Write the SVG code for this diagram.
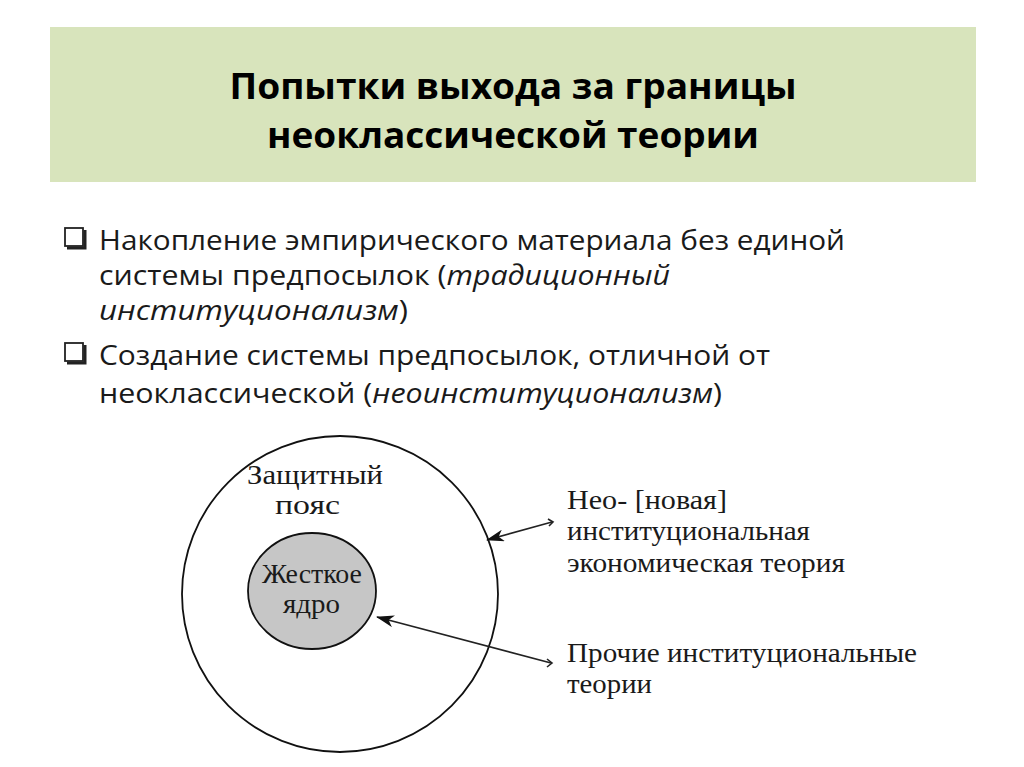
<svg xmlns="http://www.w3.org/2000/svg" width="1024" height="767" viewBox="0 0 1024 767">
<defs>
<style>
.title{font-family:"Open Sans","Liberation Sans",sans-serif;font-weight:bold;font-size:36px;fill:#000}
.body{font-family:"Open Sans","Liberation Sans",sans-serif;font-size:27px;fill:#1a1a1a}
.it{font-style:italic}
.serif{font-family:"Liberation Serif","DejaVu Serif",serif;font-size:28px;fill:#1a1a1a}
.conn{stroke:#222;stroke-width:1.6;fill:none}
</style>
<marker id="ah" markerWidth="18" markerHeight="12" refX="17" refY="6" orient="auto" markerUnits="userSpaceOnUse">
<path d="M0,0 L18,6 L0,12 L5,6 Z" fill="#111"/>
</marker>
<g id="box">
<rect x="0" y="0" width="18" height="18" fill="#fff" stroke="#222" stroke-width="1.8"/>
<path d="M2,20 H20 V2" stroke="#222" stroke-width="3" fill="none"/>
</g>
</defs>
<rect width="1024" height="767" fill="#fff"/>
<g id="header">
<rect x="50" y="27" width="926" height="155" fill="#d8e4bc"/>
<text class="title" x="513" y="99" text-anchor="middle" textLength="567" lengthAdjust="spacingAndGlyphs">Попытки выхода за границы</text>
<text class="title" x="513" y="148" text-anchor="middle" textLength="492" lengthAdjust="spacingAndGlyphs">неоклассической теории</text>
</g>
<g id="bullets">
<use href="#box" x="65" y="228"/>
<text class="body" x="99" y="250" textLength="746" lengthAdjust="spacingAndGlyphs">Накопление эмпирического материала без единой</text>
<text class="body" x="99" y="285" textLength="571" lengthAdjust="spacingAndGlyphs">системы предпосылок (<tspan class="it">традиционный</tspan></text>
<text class="body" x="99" y="320" textLength="309" lengthAdjust="spacingAndGlyphs"><tspan class="it">институционализм</tspan>)</text>
<use href="#box" x="65" y="343"/>
<text class="body" x="99" y="365" textLength="671" lengthAdjust="spacingAndGlyphs">Создание системы предпосылок, отличной от</text>
<text class="body" x="99" y="403" textLength="623" lengthAdjust="spacingAndGlyphs">неоклассической (<tspan class="it">неоинституционализм</tspan>)</text>
</g>
<g id="belt">
<ellipse cx="340" cy="594" rx="158" ry="158" fill="none" stroke="#111" stroke-width="1.8"/>
<text class="serif" x="247" y="484" textLength="136" lengthAdjust="spacingAndGlyphs">Защитный</text>
<text class="serif" x="275" y="514" textLength="65" lengthAdjust="spacingAndGlyphs">пояс</text>
</g>
<g id="core">
<ellipse cx="312" cy="591" rx="64" ry="58" fill="#c6c6c6" stroke="#111" stroke-width="1.8"/>
<text class="serif" x="262" y="583" font-size="21" textLength="100" lengthAdjust="spacingAndGlyphs">Жесткое</text>
<text class="serif" x="283" y="613" font-size="21" textLength="57" lengthAdjust="spacingAndGlyphs">ядро</text>
</g>
<g id="neo">
<text class="serif" x="567" y="509" textLength="160" lengthAdjust="spacingAndGlyphs">Нео- [новая]</text>
<text class="serif" x="567" y="540" textLength="243" lengthAdjust="spacingAndGlyphs">институциональная</text>
<text class="serif" x="567" y="572" textLength="278" lengthAdjust="spacingAndGlyphs">экономическая теория</text>
</g>
<g id="other">
<text class="serif" x="567" y="662" textLength="350" lengthAdjust="spacingAndGlyphs">Прочие институциональные</text>
<text class="serif" x="567" y="693" textLength="85" lengthAdjust="spacingAndGlyphs">теории</text>
</g>
<g id="connectors">
<line class="conn" x1="552" y1="522" x2="487" y2="540" marker-end="url(#ah)"/>
<path class="conn" d="M548,519 L553,522 L549,526"/>
<line class="conn" x1="551" y1="663" x2="377" y2="617" marker-end="url(#ah)"/>
<path class="conn" d="M547,659 L552,663 L547,667"/>
</g>
</svg>
